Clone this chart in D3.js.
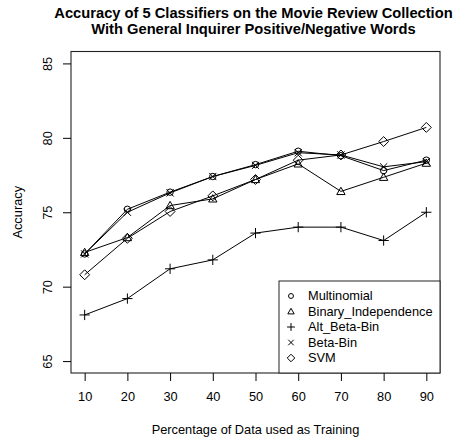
<!DOCTYPE html>
<html>
<head>
<meta charset="utf-8">
<script src="https://cdn.jsdelivr.net/npm/d3@7"></script>
<style>
  body { margin: 0; background: #fff; }
  svg { display: block; font-family: "Liberation Sans", Arial, Helvetica, sans-serif; }
</style>
</head>
<body>
<svg id="chart" width="468" height="441"></svg>
<script>
// Training-set percentages (x axis)
const trainPct = [10, 20, 30, 40, 50, 60, 70, 80, 90];

// Accuracy (%) of each classifier
const multinomial   = [72.2, 75.2, 76.35, 77.4, 78.2, 79.1, 78.8, 77.8, 78.5];
const binaryIndep   = [72.3, 73.3, 75.45, 75.9, 77.2, 78.25, 76.4, 77.35, 78.3];
const altBetaBin    = [68.1, 69.2, 71.2, 71.8, 73.6, 74.0, 74.0, 73.1, 75.0];
const betaBin       = [72.2, 75.0, 76.3, 77.4, 78.15, 79.0, 78.85, 78.05, 78.4];
const svmAcc        = [70.8, 73.25, 75.05, 76.1, 77.2, 78.5, 78.85, 79.75, 80.7];

const seriesNames = ["Multinomial", "Binary_Independence", "Alt_Beta-Bin", "Beta-Bin", "SVM"];
const seriesShapes = ["circle", "triangle", "plus", "cross", "diamond"];
const seriesValues = [multinomial, binaryIndep, altBetaBin, betaBin, svmAcc];

const yTicks = [65, 70, 75, 80, 85];
const xTicks = trainPct;

const titleLines = [
  "Accuracy of 5 Classifiers on the Movie Review Collection",
  "With General Inquirer Positive/Negative Words"
];

const FS = 12.8;

const svg = d3.select("#chart");
const plot = { left: 71, right: 440, top: 51.5, bottom: 373 };

const x = d3.scaleLinear().domain([6.8, 93.2]).range([plot.left, plot.right]);
const y = d3.scaleLinear().domain([64.2, 85.8]).range([plot.bottom, plot.top]);

// Marker glyphs in the style of R's pch 1-5
function marker(g, shape, cx, cy, s) {
  let el;
  if (shape === "circle") {
    el = g.append("circle").attr("cx", cx).attr("cy", cy).attr("r", s * 0.85);
  } else if (shape === "triangle") {
    const h = s * 1.1;
    el = g.append("path").attr("d",
      `M${cx},${cy - h}L${cx + h},${cy + h * 0.75}L${cx - h},${cy + h * 0.75}Z`);
  } else if (shape === "plus") {
    const r = s * 1.35;
    el = g.append("path").attr("d",
      `M${cx - r},${cy}H${cx + r}M${cx},${cy - r}V${cy + r}`);
  } else if (shape === "cross") {
    const r = s * 0.95;
    el = g.append("path").attr("d",
      `M${cx - r},${cy - r}L${cx + r},${cy + r}M${cx - r},${cy + r}L${cx + r},${cy - r}`);
  } else {
    const r = s * 1.3;
    el = g.append("path").attr("d",
      `M${cx},${cy - r}L${cx + r},${cy}L${cx},${cy + r}L${cx - r},${cy}Z`);
  }
  el.attr("stroke", "#000").attr("stroke-width", 1).attr("fill", "none");
}

// Series lines and markers
const line = d3.line().x((d, i) => x(trainPct[i])).y(d => y(d));
seriesValues.forEach((vals, si) => {
  const g = svg.append("g");
  g.append("path").datum(vals).attr("d", line)
    .attr("fill", "none").attr("stroke", "#000").attr("stroke-width", 1);
  vals.forEach((v, i) => marker(g, seriesShapes[si], x(trainPct[i]), y(v), 3.8));
});

// Plot frame
svg.append("rect")
  .attr("x", plot.left).attr("y", plot.top)
  .attr("width", plot.right - plot.left).attr("height", plot.bottom - plot.top)
  .attr("fill", "none").attr("stroke", "#222").attr("stroke-width", 1.1);

// Y axis
const yAxis = d3.axisLeft(y).tickValues(yTicks).tickSize(8).tickFormat(d3.format("d"));
const gy = svg.append("g").attr("transform", `translate(${plot.left},0)`).call(yAxis);
gy.select(".domain").remove();
gy.selectAll(".tick line").attr("stroke", "#000");
gy.selectAll(".tick text")
  .attr("font-size", FS).attr("fill", "#000")
  .attr("transform", "rotate(-90)")
  .attr("text-anchor", "middle")
  .attr("x", 0).attr("y", -19).attr("dy", 0);

// X axis
const xAxis = d3.axisBottom(x).tickValues(xTicks).tickSize(8).tickPadding(11).tickFormat(d3.format("d"));
const gx = svg.append("g").attr("transform", `translate(0,${plot.bottom})`).call(xAxis);
gx.select(".domain").remove();
gx.selectAll(".tick line").attr("stroke", "#000");
gx.selectAll(".tick text").attr("font-size", FS).attr("fill", "#000");

// Axis titles
svg.append("text")
  .attr("x", (plot.left + plot.right) / 2).attr("y", 433.5)
  .attr("text-anchor", "middle").attr("font-size", FS)
  .text("Percentage of Data used as Training");
svg.append("text")
  .attr("transform", `translate(22,${(plot.top + plot.bottom) / 2}) rotate(-90)`)
  .attr("text-anchor", "middle").attr("font-size", FS)
  .text("Accuracy");

// Title
titleLines.forEach((t, i) => {
  svg.append("text")
    .attr("x", (plot.left + plot.right) / 2 - 2).attr("y", 17.5 + i * 16.8)
    .attr("text-anchor", "middle").attr("font-size", 14.7).attr("font-weight", "bold")
    .text(t);
});

// Legend
const leg = { left: 279, top: 281, right: plot.right, bottom: plot.bottom };
svg.append("rect")
  .attr("x", leg.left).attr("y", leg.top)
  .attr("width", leg.right - leg.left).attr("height", leg.bottom - leg.top)
  .attr("fill", "#fff").attr("stroke", "#222").attr("stroke-width", 1);
seriesNames.forEach((name, i) => {
  const cy = 296 + i * 15.5;
  const g = svg.append("g");
  marker(g, seriesShapes[i], 291, cy, 2.9);
  g.append("text").attr("x", 308).attr("y", cy).attr("dy", "0.35em")
    .attr("font-size", FS).text(name);
});
</script>
</body>
</html>
